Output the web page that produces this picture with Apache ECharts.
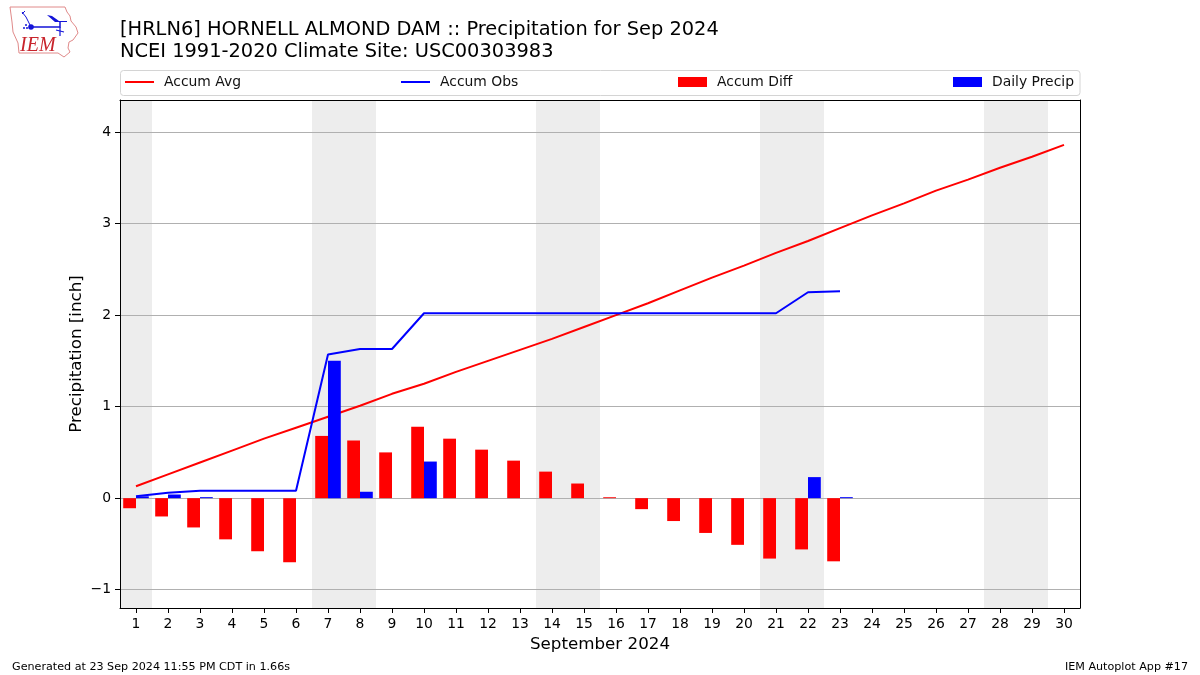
<!DOCTYPE html>
<html><head><meta charset="utf-8">
<style>html,body{margin:0;padding:0;background:#fff}#c{width:1200px;height:675px}</style>
<script src="https://cdn.jsdelivr.net/npm/echarts@6/dist/echarts.min.js"></script>
</head><body><div id="c"></div>
<script>
const days = ['1','2','3','4','5','6','7','8','9','10','11','12','13','14','15','16','17','18','19','20','21','22','23','24','25','26','27','28','29','30'];
const accumAvg = [0.13,0.26,0.39,0.52,0.65,0.77,0.89,1.01,1.14,1.25,1.38,1.50,1.62,1.74,1.87,2.00,2.13,2.27,2.41,2.54,2.68,2.81,2.95,3.09,3.22,3.36,3.48,3.61,3.73,3.86];
const accumObs = [0.02,0.06,0.08,0.08,0.08,0.08,1.57,1.63,1.63,2.02,2.02,2.02,2.02,2.02,2.02,2.02,2.02,2.02,2.02,2.02,2.02,2.25,2.26,null,null,null,null,null,null,null];
const accumDiff = [-0.11,-0.20,-0.32,-0.45,-0.58,-0.70,0.68,0.63,0.50,0.78,0.65,0.53,0.41,0.29,0.16,0.01,-0.12,-0.25,-0.38,-0.51,-0.66,-0.56,-0.69,null,null,null,null,null,null,null];
const dailyPrecip = [0.02,0.04,0.01,null,null,null,1.50,0.07,null,0.40,null,null,null,null,null,null,null,null,null,null,null,0.23,0.01,null,null,null,null,null,null,null];
const weekends = [[0.5,1.5],[6.5,8.5],[13.5,15.5],[20.5,22.5],[27.5,29.5]];
const yTicks = [-1,0,1,2,3,4];
const yMin = -1.2, yMax = 4.35;

const FONT = '"DejaVu Sans"';
const TXT = '#000';
const legendText = {fontFamily: FONT, fontSize: 13.9, color: '#111'};
function legend(name, left, h) {
  return {show: true, data: [name], left, top: 75, orient: 'horizontal', itemWidth: 29, itemHeight: h,
    icon: 'rect', itemGap: 0, padding: 0, textStyle: Object.assign({padding: [0, 0, 0, 5]}, legendText), selectedMode: false};
}
const logoRed = '#e08a8a', logoBlue = '#1414d8';
const chart = echarts.init(document.getElementById('c'), null, {renderer: 'canvas'});
chart.setOption({
  animation: false,
  backgroundColor: '#fff',
  textStyle: {fontFamily: FONT},
  title: {text: '[HRLN6] HORNELL ALMOND DAM :: Precipitation for Sep 2024\nNCEI 1991-2020 Climate Site: USC00303983',
    left: 120, top: 18.5, padding: 0, textStyle: {fontFamily: FONT, fontSize: 19.4, fontWeight: 'normal', color: TXT, lineHeight: 22}},
  legend: [legend('Accum Avg', 125, 2), legend('Accum Obs', 401, 2), legend('Accum Diff', 678, 10), legend('Daily Precip', 953, 10)],
  grid: {left: 120, top: 100, width: 960, height: 508, containLabel: false},
  xAxis: [
    {type: 'category', data: days, position: 'bottom', boundaryGap: true,
     name: 'September 2024', nameLocation: 'middle', nameGap: 28, nameTextStyle: {fontFamily: FONT, fontSize: 16.7, color: TXT},
     axisLine: {show: true, onZero: false, lineStyle: {color: '#000', width: 1}},
     axisTick: {show: true, alignWithLabel: true, length: 5, lineStyle: {color: '#000'}},
     axisLabel: {interval: 0, margin: 9, fontFamily: FONT, fontSize: 13.9, color: TXT},
     splitLine: {show: false}},
    {type: 'value', min: 0.5, max: 30.5, position: 'top',
     axisLine: {show: true, onZero: false, lineStyle: {color: '#000', width: 1}},
     axisTick: {show: false}, axisLabel: {show: false}, splitLine: {show: false}}
  ],
  yAxis: [
    {type: 'value', min: yMin, max: yMax, position: 'left',
     name: 'Precipitation [inch]', nameLocation: 'middle', nameGap: 34.5, nameRotate: 90, nameMoveOverlap: false,
     nameTextStyle: {fontFamily: FONT, fontSize: 16.7, color: TXT},
     axisLine: {show: true, onZero: false, lineStyle: {color: '#000', width: 1}},
     axisTick: {show: true, length: 5, customValues: yTicks, lineStyle: {color: '#000'}},
     axisLabel: {margin: 9, customValues: yTicks, fontFamily: FONT, fontSize: 13.9, color: TXT,
       formatter: v => String(v).replace('-', '\u2212')},
     splitLine: {show: true, lineStyle: {color: '#b0b0b0', width: 1}}},
    {type: 'value', min: yMin, max: yMax, position: 'right',
     axisLine: {show: true, onZero: false, lineStyle: {color: '#000', width: 1}},
     axisTick: {show: false}, axisLabel: {show: false}, splitLine: {show: false}}
  ],
  series: [
    {name: 'Weekends', type: 'line', xAxisIndex: 1, yAxisIndex: 0, data: [], z: -5, silent: true,
     markArea: {silent: true, z: -5, itemStyle: {color: '#ededed'},
       data: weekends.map(w => [{xAxis: w[0]}, {xAxis: w[1]}])}},
    {name: 'Accum Avg', type: 'line', data: accumAvg, showSymbol: false, symbol: 'none', z: 3,
     lineStyle: {color: '#ff0000', width: 2}, itemStyle: {color: '#ff0000'}},
    {name: 'Accum Obs', type: 'line', data: accumObs, showSymbol: false, symbol: 'none', z: 3,
     lineStyle: {color: '#0000ff', width: 2}, itemStyle: {color: '#0000ff'}},
    {name: 'Accum Diff', type: 'bar', data: accumDiff, barWidth: 12.8, barGap: 0, z: 4, itemStyle: {color: '#ff0000'}},
    {name: 'Daily Precip', type: 'bar', data: dailyPrecip, barWidth: 12.8, barGap: 0, z: 4, barMinHeight: 1, itemStyle: {color: '#0000ff'}}
  ],
  graphic: [
    {type: 'rect', z: -10, shape: {x: 120.5, y: 70.5, width: 959.5, height: 25, r: 3},
     style: {fill: '#fff', stroke: '#d4d4d4', lineWidth: 1}},
    {type: 'text', left: 12, top: 661.5, style: {text: 'Generated at 23 Sep 2024 11:55 PM CDT in 1.66s', font: '11.15px "DejaVu Sans"', fill: TXT}},
    {type: 'text', right: 12, top: 661.5, style: {text: 'IEM Autoplot App #17', font: '11.15px "DejaVu Sans"', fill: TXT}},
    // IEM logo
    {type: 'polygon', shape: {points: [[10,7],[65,7],[67,12],[70,16],[71,21],[76,27],[78,33],[73,40],[69,42],[68,48],[70,52],[64,57],[58,53],[19,53],[18,43],[13,32],[12,22]]},
     style: {fill: '#fff', stroke: logoRed, lineWidth: 1}},
    {type: 'text', left: 20, top: 36, style: {text: 'IEM', font: 'italic 20px "Liberation Serif"', fill: '#c8242c'}},
    {type: 'polyline', shape: {points: [[31,27],[60,27],[60,22]]}, style: {stroke: logoBlue, fill: 'none', lineWidth: 1.5}},
    {type: 'polyline', shape: {points: [[31,27],[26,17],[22,12]]}, style: {stroke: logoBlue, fill: 'none', lineWidth: 1}},
    {type: 'polyline', shape: {points: [[22,14],[25,11]]}, style: {stroke: logoBlue, fill: 'none', lineWidth: 1}},
    {type: 'circle', shape: {cx: 31, cy: 27, r: 2.8}, style: {fill: logoBlue}},
    {type: 'polygon', shape: {points: [[47,15],[52,16],[59,21],[67,21],[67,22],[55,22]]}, style: {fill: logoBlue}},
    {type: 'polyline', shape: {points: [[60,27],[60,36]]}, style: {stroke: logoBlue, fill: 'none', lineWidth: 1.2}},
    {type: 'polyline', shape: {points: [[56,30],[64,32]]}, style: {stroke: logoBlue, fill: 'none', lineWidth: 1.2}},
    {type: 'circle', shape: {cx: 24, cy: 28, r: 1}, style: {fill: logoBlue}},
    {type: 'circle', shape: {cx: 26, cy: 25, r: 1}, style: {fill: logoBlue}},
    {type: 'circle', shape: {cx: 27, cy: 28, r: 1}, style: {fill: logoBlue}}
  ]
});
</script></body></html>
